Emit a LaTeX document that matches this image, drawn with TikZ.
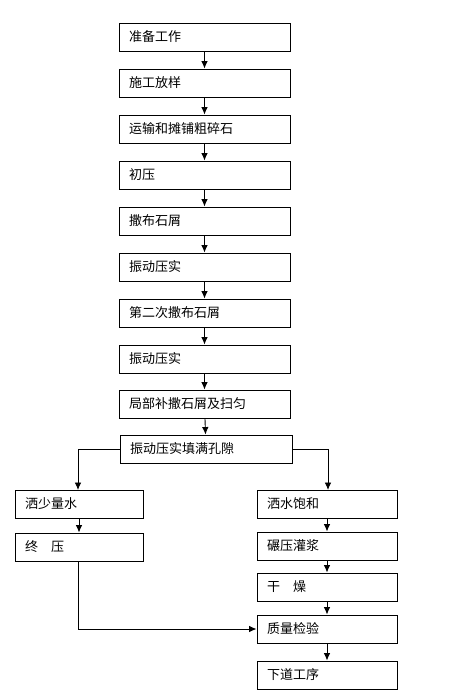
\documentclass[tikz,border=0pt]{standalone}
\usepackage{fontspec}
\newfontfamily\cjk{Noto Sans CJK SC}
\usetikzlibrary{arrows.meta}
\begin{document}
\begin{tikzpicture}[x=1pt,y=-1pt,
  box/.style={draw,line width=0.9pt,minimum height=28pt,inner xsep=10pt,inner ysep=0pt,font=\cjk\fontsize{13}{14}\selectfont,align=left},
  arr/.style={line width=0.9pt,-{Latex[length=7.5pt,width=6.5pt]}}]
\useasboundingbox (0,0) rectangle (454,700);
\fill[white] (0,0) rectangle (454,700);
\newcommand{\flowbox}[5]{%
  \node[box,text width={#4-#2-20pt}] (#1) at ({(#2+#4)/2},#3+14) {#5};
}
\flowbox{a1}{119}{23}{290}{准备工作}
\flowbox{a2}{119}{69}{290}{施工放样}
\flowbox{a3}{119}{115}{290}{运输和摊铺粗碎石}
\flowbox{a4}{119}{161}{290}{初压}
\flowbox{a5}{119}{207}{290}{撒布石屑}
\flowbox{a6}{119}{253}{290}{振动压实}
\flowbox{a7}{119}{299}{290}{第二次撒布石屑}
\flowbox{a8}{119}{345}{290}{振动压实}
\flowbox{a9}{119}{390}{290}{局部补撒石屑及扫匀}
\flowbox{a10}{120}{435}{292}{振动压实填满孔隙}
\flowbox{l1}{15}{490}{143}{洒少量水}
\flowbox{l2}{15}{533}{143}{终\hspace{1em}压}
\flowbox{r1}{257}{490}{397}{洒水饱和}
\flowbox{r2}{257}{532}{397}{碾压灌浆}
\flowbox{r3}{257}{573}{397}{干\hspace{1em}燥}
\flowbox{r4}{257}{615}{397}{质量检验}
\flowbox{r5}{257}{661}{397}{下道工序}
\draw[arr] (a1) -- (a2);
\draw[arr] (a2) -- (a3);
\draw[arr] (a3) -- (a4);
\draw[arr] (a4) -- (a5);
\draw[arr] (a5) -- (a6);
\draw[arr] (a6) -- (a7);
\draw[arr] (a7) -- (a8);
\draw[arr] (a8) -- (a9);
\draw[arr] (a9) -- (a10);
\coordinate (lc) at (78,449);
\coordinate (rc) at (328,449);
\coordinate (ld) at (78,490);
\coordinate (rd) at (328,490);
\draw[arr] (a10.west) -- (lc) -- (ld);
\draw[arr] (a10.east) -- (rc) -- (rd);
\draw[arr] (l1) -- (l2);
\draw[arr] (r1) -- (r2);
\draw[arr] (r2) -- (r3);
\draw[arr] (r3) -- (r4);
\draw[arr] (r4) -- (r5);
\coordinate (lb) at (78,629);
\draw[arr] (l2.south -| ld) -- (lb) -- (r4.west);
\end{tikzpicture}
\end{document}
